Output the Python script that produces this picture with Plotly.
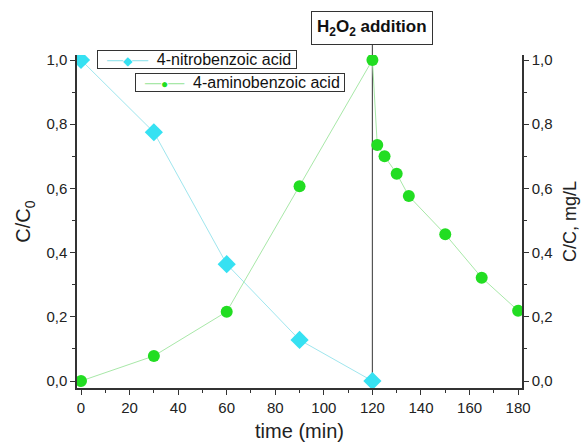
import plotly.graph_objects as go

t_nitro = [0, 30, 60, 90, 120]
c_nitro = [1.0, 0.775, 0.364, 0.128, 0.0]
t_amino = [0, 30, 60, 90, 120, 122, 125, 130, 135, 150, 165, 180]
c_amino = [0.0, 0.078, 0.216, 0.607, 1.0, 0.735, 0.70, 0.646, 0.576, 0.457, 0.322, 0.219]

x_ticks = [0, 20, 40, 60, 80, 100, 120, 140, 160, 180]
y_ticks = [0.0, 0.2, 0.4, 0.6, 0.8, 1.0]
event_time = 120
names = ["4-nitrobenzoic acid", "4-aminobenzoic acid"]

FONT = "Liberation Sans, Arial, sans-serif"
NITRO_LINE, NITRO_MK = "#9FE6EE", "#36E1F2"
AMINO_LINE, AMINO_MK = "#A8E8A8", "#22DD22"

fig = go.Figure()
fig.add_trace(go.Scatter(
    x=t_nitro, y=c_nitro, mode="lines+markers", name=names[0],
    line=dict(color=NITRO_LINE, width=1),
    marker=dict(symbol="diamond", size=14, color=NITRO_MK),
    showlegend=False,
))
fig.add_trace(go.Scatter(
    x=t_amino, y=c_amino, mode="lines+markers", name=names[1],
    line=dict(color=AMINO_LINE, width=1),
    marker=dict(symbol="circle", size=12, color=AMINO_MK),
    showlegend=False,
))
# invisible trace for right axis
fig.add_trace(go.Scatter(x=[0], y=[0], yaxis="y2", mode="markers",
                         marker=dict(opacity=0), showlegend=False, hoverinfo="skip"))

axis_common = dict(
    showline=True, linecolor="#333", linewidth=1.5, ticks="outside", ticklen=5,
    tickcolor="#333", showgrid=False, zeroline=False, automargin=False,
    tickfont=dict(family=FONT, size=15, color="#222"),
)

fig.update_layout(
    width=581, height=444,
    margin=dict(l=77, r=59, t=55, b=56),
    plot_bgcolor="white", paper_bgcolor="white",
    separators=",.",
    font=dict(family=FONT, color="#222"),
    showlegend=False,
    xaxis=dict(range=[-1.65, 181.6], tickvals=x_ticks,
               minor=dict(dtick=10, ticks="outside", ticklen=3, tickcolor="#333"),
               ticklabelstandoff=0,
               title=dict(text="time (min)", font=dict(size=20, family=FONT), standoff=9),
               **axis_common),
    yaxis=dict(range=[-0.0218, 1.0156], tickvals=y_ticks, tickformat=".1f",
               minor=dict(dtick=0.1, ticks="outside", ticklen=3, tickcolor="#333"),
               title=dict(text="C/C<sub>0</sub>", font=dict(size=20, family=FONT), standoff=10),
               **axis_common),
    yaxis2=dict(range=[-0.0218, 1.0156], tickvals=y_ticks, tickformat=".1f",
                overlaying="y", side="right",
                minor=dict(dtick=0.1, ticks="outside", ticklen=3, tickcolor="#333"),
                title=dict(text="C/C, mg/L", font=dict(size=18, family=FONT), standoff=12),
                **axis_common),
)

fig.add_shape(type="line", xref="x", yref="paper", x0=event_time, x1=event_time,
              y0=0, y1=1.033, line=dict(color="#555", width=1.2), layer="below")

fig.add_annotation(
    x=event_time, y=1.0796, xref="x", yref="paper", xanchor="center", yanchor="middle",
    text="<b>H<sub>2</sub>O<sub>2</sub> addition</b>",
    showarrow=False, font=dict(size=17, family=FONT, color="#111"),
    bordercolor="#333", borderwidth=1, borderpad=5, bgcolor="white",
)

# legend boxes (staggered, as in the original)
def legend_text(name, line_c, mk_c, sym):
    return (f'  <span style="color:{line_c}">—</span>'
            f'<span style="color:{mk_c};font-size:12px">{sym}</span>'
            f'<span style="color:{line_c}">—</span>  {name} ')

fig.add_annotation(
    x=0.2697, y=0.985, xref="paper", yref="paper", xanchor="center", yanchor="middle",
    text=legend_text(names[0], NITRO_LINE, NITRO_MK, "◆"),
    showarrow=False, font=dict(size=16, family=FONT, color="#111"),
    bordercolor="#333", borderwidth=1, borderpad=0, bgcolor="white",
)
fig.add_annotation(
    x=0.366, y=0.916, xref="paper", yref="paper", xanchor="center", yanchor="middle",
    text=legend_text(names[1], AMINO_LINE, AMINO_MK, "●"),
    showarrow=False, font=dict(size=16, family=FONT, color="#111"),
    bordercolor="#333", borderwidth=1, borderpad=0, bgcolor="white",
)

fig.write_html("out.html")
